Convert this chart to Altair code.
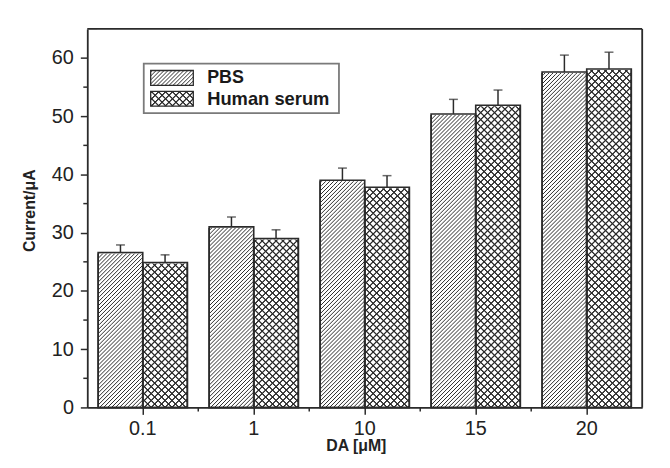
import math
import altair as alt
import pandas as pd

# ---- data ----
conc = ["0.1", "1", "10", "15", "20"]
series = ["PBS", "Human serum"]
pbs = [26.6, 31.0, 39.0, 50.4, 57.6]
pbs_err = [1.3, 1.7, 2.1, 2.5, 2.9]
serum = [24.9, 29.0, 37.8, 51.9, 58.1]
serum_err = [1.3, 1.5, 2.0, 2.6, 2.9]
y_major = [0, 10, 20, 30, 40, 50, 60]
y_minor = [5, 15, 25, 35, 45, 55]

rows = []
for i, c in enumerate(conc):
    rows.append({"conc": c, "series": "PBS", "value": pbs[i], "top": pbs[i] + pbs_err[i]})
    rows.append({"conc": c, "series": "Human serum", "value": serum[i], "top": serum[i] + serum_err[i]})
df = pd.DataFrame(rows)

# ---- layout (chosen so bar edges fall on whole pixels) ----
W, H = 560, 382
YMAX = 65
BAR_W = 45
STEP = W / len(conc)
PAD_OUTER = (STEP / BAR_W - 2) / 2 - 1e-7
INK = "#2b2b2b"
CLEAR = "rgba(43,43,43,0)"
FONT = "Liberation Sans"

# hatch texture is laid in short tiles (TILE px tall) so each gradient is short
PBS_STEP, PBS_LW = 4, 1.0
SER_STEP, SER_LW = 7, 1.8
TILE = 28  # multiple of both steps -> stripes continue across tiles
n_tiles = math.ceil(H / TILE)
tiles = pd.DataFrame({"j": list(range(n_tiles))})
tiles["y0"] = tiles["j"] * TILE * YMAX / H
tiles["y1"] = (tiles["j"] + 1) * TILE * YMAX / H
tile_df = df[["conc", "series"]].merge(tiles, how="cross")


def stripes(w, h, step, width, color, direction):
    """Hatch as a linear gradient in the rect's bounding box, with soft
    (one-pixel) edges so the stripes are anti-aliased.
    step / width are measured along x+y (or x-y) in pixels."""
    L = w + h
    k = w * L / (w * w + h * h)
    if direction == "/":
        x1, y1, x2, y2 = 0, 0, k, k * h / w
    else:
        x1, y1, x2, y2 = 0, 1, k, 1 - k * h / w
    stops = []
    i = 0
    half = max(width - 1, 0) / 2
    while True:
        c = i * step + 1.5
        a, b, d, e = c - half - 1, c - half, c + half, c + half + 1
        if a / L >= 1:
            break
        for off, col in ((a, CLEAR), (b, color), (d, color), (e, CLEAR)):
            stops.append(alt.GradientStop(offset=min(max(off / L, 0), 1), color=col))
        i += 1
    return alt.LinearGradient(gradient="linear", stops=stops, x1=x1, y1=y1, x2=x2, y2=y2)


X = alt.X("conc:N", scale=alt.Scale(domain=conc, paddingInner=0, paddingOuter=0, round=False),
          axis=alt.Axis(title="DA [μM]", labelAngle=0, labelFontSize=20, labelColor="#222",
                        labelFont=FONT, tickSize=7, tickWidth=1.5, tickColor=INK,
                        domainColor=INK, domainWidth=1.8, labelPadding=4,
                        titleFont=FONT, titleFontSize=16, titleFontWeight="bold",
                        titleColor="#222", titleX=271, titleY=43,
                        titleBaseline="alphabetic"))
XO = alt.XOffset("series:N", scale=alt.Scale(domain=series, paddingInner=0,
                                             paddingOuter=PAD_OUTER, round=False))
Y = alt.Y("value:Q", scale=alt.Scale(domain=[0, YMAX], nice=False, round=False),
          axis=alt.Axis(values=y_major, title="Current/μA", labelFontSize=20,
                        labelColor="#222", labelFont=FONT, tickSize=7, tickWidth=1.5,
                        tickColor=INK, domainColor=INK, domainWidth=1.8, labelPadding=7,
                        grid=False, titleFont=FONT, titleFontSize=16,
                        titleFontWeight="bold", titleColor="#222", titleX=-58,
                        titleY=183, titleAngle=270, titleAlign="center",
                        titleBaseline="middle"))

base = alt.Chart(df)
tbase = alt.Chart(tile_df)

pbs_f = alt.datum.series == "PBS"
ser_f = alt.datum.series == "Human serum"

hatch_pbs = tbase.transform_filter(pbs_f).mark_bar(
    clip=True, fill=stripes(BAR_W, TILE, PBS_STEP, PBS_LW, INK, "/")
).encode(x=X, xOffset=XO, y=alt.Y("y1:Q"), y2="y0:Q")

hatch_s1 = tbase.transform_filter(ser_f).mark_bar(
    clip=True, fill=stripes(BAR_W, TILE, SER_STEP, SER_LW, INK, "/")
).encode(x=X, xOffset=XO, y=alt.Y("y1:Q"), y2="y0:Q")

hatch_s2 = tbase.transform_filter(ser_f).mark_bar(
    clip=True, fill=stripes(BAR_W, TILE, SER_STEP, SER_LW, INK, "\\")
).encode(x=X, xOffset=XO, y=alt.Y("y1:Q"), y2="y0:Q")

cover = base.mark_bar(fill="white", stroke="white", strokeWidth=2, clip=True).encode(
    x=X, xOffset=XO, y=Y, y2=alt.datum(YMAX + 3))

outline = base.mark_bar(fillOpacity=0, stroke=INK, strokeWidth=1.6).encode(
    x=X, xOffset=XO, y=Y)

err_rule = base.mark_rule(color=INK, strokeWidth=1.5).encode(
    x=X, xOffset=XO, y="value:Q", y2="top:Q")
err_cap = base.mark_tick(color=INK, size=9, thickness=1.5).encode(
    x=X, xOffset=XO, y="top:Q")

minor_x = alt.Chart(pd.DataFrame({"conc": conc[1:]})).mark_rule(
    color=INK, strokeWidth=1.5).encode(
    x=alt.X("conc:N", bandPosition=0), y=alt.value(H), y2=alt.value(H + 4))

minor_y = alt.Chart(pd.DataFrame({"v": y_minor})).mark_rule(
    color=INK, strokeWidth=1.5).encode(
    y=alt.Y("v:Q"), x=alt.value(0), x2=alt.value(-4))

one = pd.DataFrame({"a": [0]})
frame_top = alt.Chart(one).mark_rule(color=INK, strokeWidth=1.8).encode(
    x=alt.value(0), x2=alt.value(W), y=alt.value(0))
frame_right = alt.Chart(one).mark_rule(color=INK, strokeWidth=1.8).encode(
    x=alt.value(W), y=alt.value(0), y2=alt.value(H))

# ---- legend ----
LX0, LX1, LY0, LY1 = 57, 254, 35, 85
SX0, SX1 = 64, 107
leg_box = alt.Chart(one).mark_rect(fill="white", stroke="#7a7a7a", strokeWidth=1.8).encode(
    x=alt.value(LX0), x2=alt.value(LX1), y=alt.value(LY0), y2=alt.value(LY1))
leg_pbs = alt.Chart(one).mark_rect(
    fill=stripes(SX1 - SX0, 15, PBS_STEP, PBS_LW, INK, "/"), stroke=INK,
    strokeWidth=1.3).encode(
    x=alt.value(SX0), x2=alt.value(SX1), y=alt.value(42), y2=alt.value(57))
leg_s1 = alt.Chart(one).mark_rect(
    fill=stripes(SX1 - SX0, 15, SER_STEP, SER_LW, INK, "/")).encode(
    x=alt.value(SX0), x2=alt.value(SX1), y=alt.value(63), y2=alt.value(78))
leg_s2 = alt.Chart(one).mark_rect(
    fill=stripes(SX1 - SX0, 15, SER_STEP, SER_LW, INK, "\\"), stroke=INK,
    strokeWidth=1.3).encode(
    x=alt.value(SX0), x2=alt.value(SX1), y=alt.value(63), y2=alt.value(78))
leg_t1 = alt.Chart(one).mark_text(text="PBS", align="left", baseline="middle", font=FONT,
                                  fontSize=18, fontWeight="bold", color="#1a1a1a").encode(
    x=alt.value(121), y=alt.value(49.5))
leg_t2 = alt.Chart(one).mark_text(text="Human serum", align="left", baseline="middle",
                                  font=FONT, fontSize=18.5, fontWeight="bold",
                                  color="#1a1a1a").encode(
    x=alt.value(121), y=alt.value(70.5))

chart = alt.layer(
    outline, hatch_pbs, hatch_s1, hatch_s2, cover, err_rule, err_cap,
    outline, minor_x, minor_y, frame_top, frame_right,
    leg_box, leg_pbs, leg_s1, leg_s2, leg_t1, leg_t2,
).properties(
    width=W, height=H,
    padding={"left": 80, "top": 19, "right": 20, "bottom": 55},
    autosize=alt.AutoSizeParams(type="none"),
).configure_view(stroke=None).configure(background="white")

chart.save("out.html", embed_options={"renderer": "svg", "actions": False})
